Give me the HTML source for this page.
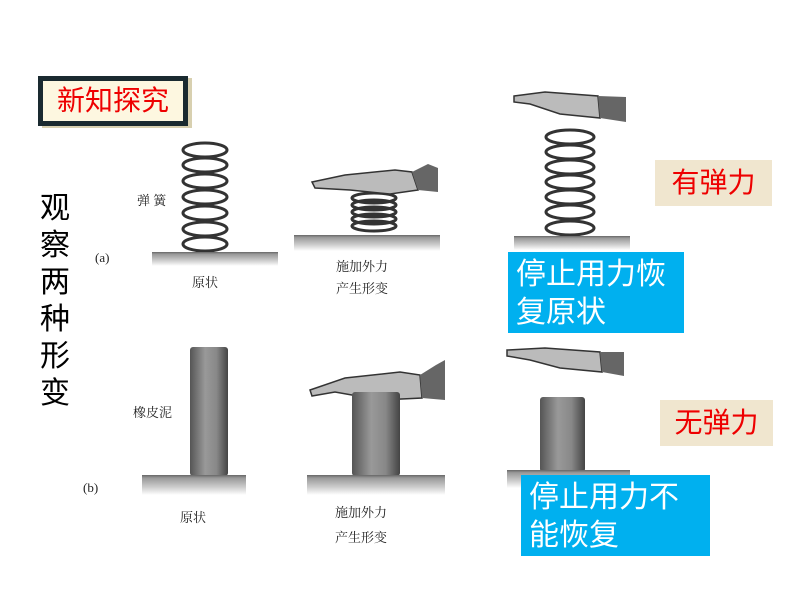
<!DOCTYPE html>
<html><head><meta charset="utf-8"><style>
body{margin:0;width:800px;height:600px;background:#fff;position:relative;overflow:hidden;font-family:"Liberation Sans","Noto Sans CJK SC",sans-serif}
.a{position:absolute}
.ground{position:absolute;background:linear-gradient(#666 0,#999 15%,#ccc 60%,#fff 100%)}
.t{position:absolute;font-family:"Liberation Serif","Noto Serif CJK SC",serif;font-size:13px;color:#222}
.blue{position:absolute;background:#00b0ef;color:#fff;font-size:30px;line-height:38px;padding:4px 8px;box-sizing:border-box}
.lab{position:absolute;background:#f0e6cf;color:#e00;font-size:28px;text-align:center;line-height:46px}
.col{position:absolute;background:linear-gradient(90deg,#555,#999 40%,#888 70%,#444);border-radius:3px}
</style></head><body>
<div class="a" style="left:38px;top:76px;width:150px;height:50px;background:#1a2a30;box-shadow:4px 2px 0 #d8d0b0"></div>
<div class="a" style="left:43px;top:81px;width:140px;height:40px;background:#fdf7e0;color:#e00;font-size:28px;line-height:40px;text-align:center">新知探究</div>
<div class="a" style="left:40px;top:190px;width:36px;font-size:30px;line-height:37px;color:#000">观<br>察<br>两<br>种<br>形<br>变</div>

<svg class="a" style="left:0;top:0" width="800" height="600">
<g fill="none" stroke="#333" stroke-width="3">
<ellipse cx="205" cy="150" rx="22" ry="7"/><ellipse cx="205" cy="165" rx="22" ry="7"/><ellipse cx="205" cy="181" rx="22" ry="7"/><ellipse cx="205" cy="197" rx="22" ry="7"/><ellipse cx="205" cy="213" rx="22" ry="7"/><ellipse cx="205" cy="229" rx="22" ry="7"/><ellipse cx="205" cy="244" rx="22" ry="7"/>
<ellipse cx="374" cy="198" rx="22" ry="5"/><ellipse cx="374" cy="205" rx="22" ry="5"/><ellipse cx="374" cy="212" rx="22" ry="5"/><ellipse cx="374" cy="219" rx="22" ry="5"/><ellipse cx="374" cy="226" rx="22" ry="5"/>
<ellipse cx="570" cy="137" rx="24" ry="7"/><ellipse cx="570" cy="152" rx="24" ry="7"/><ellipse cx="570" cy="167" rx="24" ry="7"/><ellipse cx="570" cy="182" rx="24" ry="7"/><ellipse cx="570" cy="197" rx="24" ry="7"/><ellipse cx="570" cy="212" rx="24" ry="7"/><ellipse cx="570" cy="228" rx="24" ry="7"/>
</g>
<g fill="#bbb" stroke="#333" stroke-width="1.5">
<path d="M312 182 L345 175 L395 170 L412 172 L418 190 L390 194 L350 190 L315 188Z"/>
<path d="M514 96 L545 92 L598 96 L600 118 L560 114 L530 104 L514 102Z"/>
<path d="M310 390 L345 378 L400 372 L420 375 L422 398 L380 400 L335 392 L312 396Z"/>
<path d="M507 350 L545 348 L600 352 L602 372 L560 368 L530 360 L507 356Z"/>
</g>
<g fill="#666">
<path d="M412 172 L428 164 L438 168 L438 192 L418 190Z"/>
<path d="M598 96 L626 97 L626 122 L600 118Z"/>
<path d="M420 375 L436 365 L445 360 L445 400 L422 398Z"/>
<path d="M600 352 L624 352 L624 376 L602 372Z"/>
</g>
</svg>
<div class="ground" style="left:152px;top:252px;width:126px;height:14px"></div>
<div class="ground" style="left:294px;top:235px;width:146px;height:16px"></div>
<div class="ground" style="left:514px;top:236px;width:116px;height:14px"></div>

<div class="col" style="left:190px;top:347px;width:38px;height:129px"></div>
<div class="col" style="left:352px;top:392px;width:48px;height:84px"></div>
<div class="col" style="left:540px;top:397px;width:45px;height:75px"></div>
<div class="ground" style="left:142px;top:475px;width:104px;height:20px"></div>
<div class="ground" style="left:307px;top:475px;width:138px;height:20px"></div>
<div class="ground" style="left:507px;top:470px;width:123px;height:18px"></div>

<div class="t" style="left:137px;top:190px">弹 簧</div>
<div class="t" style="left:95px;top:250px">(a)</div>
<div class="t" style="left:192px;top:272px">原状</div>
<div class="t" style="left:336px;top:256px;line-height:22px">施加外力<br>产生形变</div>
<div class="t" style="left:133px;top:402px">橡皮泥</div>
<div class="t" style="left:83px;top:480px">(b)</div>
<div class="t" style="left:180px;top:507px">原状</div>
<div class="t" style="left:335px;top:500px;line-height:25px">施加外力<br>产生形变</div>

<div class="lab" style="left:655px;top:160px;width:117px;height:46px">有弹力</div>
<div class="lab" style="left:660px;top:400px;width:113px;height:46px">无弹力</div>
<div class="blue" style="left:508px;top:252px;width:176px;height:81px">停止用力恢<br>复原状</div>
<div class="blue" style="left:521px;top:475px;width:189px;height:81px">停止用力不<br>能恢复</div>
</body></html>
